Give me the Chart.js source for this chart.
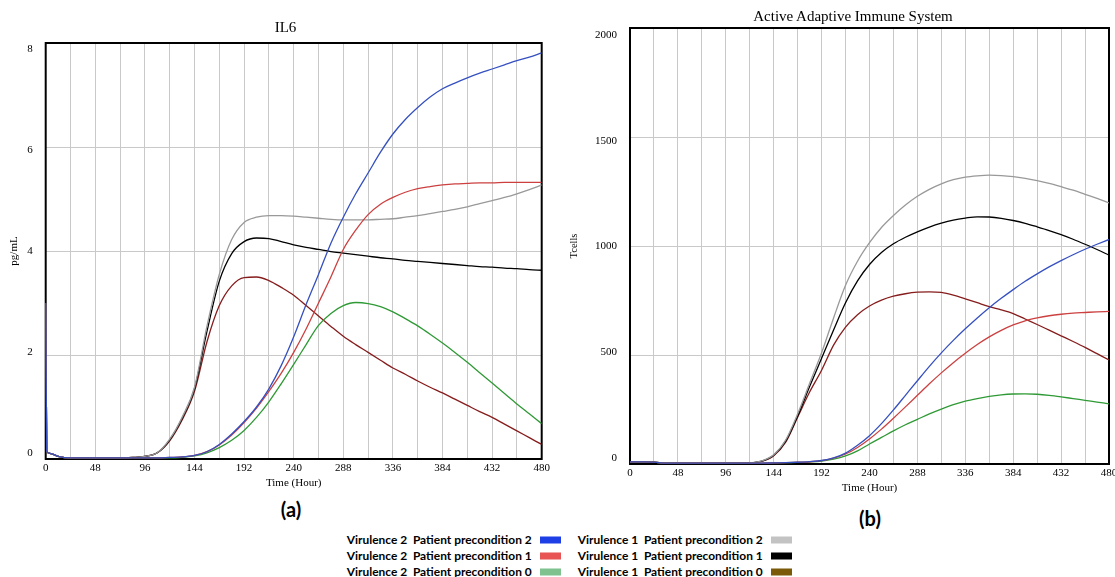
<!DOCTYPE html>
<html>
<head>
<meta charset="utf-8">
<script src="https://cdn.jsdelivr.net/npm/chart.js@4.4.0/dist/chart.umd.min.js"></script>
<style>
html,body{margin:0;padding:0;background:#fff;width:1115px;height:577px;overflow:hidden;position:relative;}
.abs{position:absolute;}
.title{font-family:"Liberation Serif",serif;font-size:15px;color:#000;transform:translate(-50%,-50%);white-space:nowrap;line-height:1.2;}
.tag{font-family:Lato,sans-serif;font-weight:bold;font-size:20px;color:#000;transform:translate(-50%,-50%);line-height:1.2;}
.leg{font-family:Lato,sans-serif;font-weight:bold;font-size:11.8px;color:#000;white-space:pre;line-height:1;transform:translateY(-50%);}
.sw{width:21px;height:7px;transform:translateY(-50%);}
canvas{position:absolute;top:0;}
</style>
</head>
<body>
<canvas id="c1" width="570" height="490" style="left:0px"></canvas>
<canvas id="c2" width="585" height="495" style="left:560px"></canvas>
<div class="abs title" style="left:285.5px;top:27px">IL6</div>
<div class="abs title" style="left:853px;top:16px">Active Adaptive Immune System</div>
<div class="abs tag" style="left:291px;top:509px">(a)</div>
<div class="abs tag" style="left:870px;top:518px">(b)</div>
<div id="legend"></div>
<script>
// ---- shared x values (hours) ----
const hours = [0,1,4,12,24,36,48,60,72,84,96,108,120,132,144,156,168,180,192,204,216,228,240,252,264,276,288,300,312,324,336,348,360,372,384,396,408,420,432,444,456,468,480];
const gridHours = [0,24,48,72,96,120,144,168,192,216,240,264,288,312,336,360,384,408,432,456,480];
const xTickLabels = [0,48,96,144,192,240,288,336,384,432,480];
const il6Ticks = [0,2,4,6,8];
const tcTicks = [0,500,1000,1500,2000];

// ---- IL6 (pg/mL) ----
const il6_v2p2 = [3,0.15,0.11,0.05,0.02,0.02,0.02,0.02,0.02, 0.02,0.02,0.02,0.03,0.04,0.07,0.14,0.28,0.48,0.72,1.0,1.35,1.8,2.35,2.97,3.55,4.15,4.65,5.1,5.5,5.9,6.25,6.53,6.76,6.96,7.12,7.23,7.33,7.42,7.5,7.58,7.66,7.73,7.81];
const il6_v2p1 = [3,0.15,0.11,0.05,0.02,0.02,0.02,0.02,0.02, 0.02,0.02,0.02,0.03,0.04,0.07,0.14,0.27,0.46,0.7,0.98,1.3,1.65,2.05,2.5,3.0,3.5,4.03,4.4,4.7,4.9,5.03,5.13,5.2,5.24,5.27,5.29,5.3,5.31,5.31,5.32,5.32,5.32,5.32];
const il6_v2p0 = [3,0.15,0.11,0.05,0.02,0.02,0.02,0.02,0.02, 0.02,0.02,0.02,0.02,0.03,0.06,0.12,0.22,0.36,0.55,0.8,1.1,1.45,1.82,2.2,2.57,2.8,2.95,3.01,2.99,2.93,2.83,2.7,2.56,2.4,2.23,2.05,1.86,1.66,1.46,1.26,1.06,0.87,0.68];
const il6_v1p2 = [3,0.15,0.11,0.05,0.02,0.02,0.02,0.02,0.02, 0.03,0.05,0.12,0.38,0.8,1.38,2.55,3.55,4.22,4.55,4.65,4.68,4.68,4.67,4.65,4.63,4.61,4.6,4.6,4.6,4.61,4.62,4.65,4.68,4.72,4.76,4.8,4.85,4.91,4.97,5.03,5.1,5.18,5.27];
const il6_v1p1 = [3,0.15,0.11,0.05,0.02,0.02,0.02,0.02,0.02, 0.03,0.05,0.12,0.37,0.78,1.35,2.45,3.42,3.95,4.18,4.25,4.24,4.18,4.12,4.07,4.03,3.99,3.96,3.93,3.9,3.87,3.85,3.82,3.8,3.78,3.76,3.74,3.72,3.7,3.69,3.67,3.66,3.64,3.63];
const il6_v1p0 = [3,0.15,0.11,0.05,0.02,0.02,0.02,0.02,0.02, 0.03,0.05,0.12,0.35,0.75,1.3,2.25,2.95,3.33,3.49,3.5,3.43,3.3,3.15,2.95,2.75,2.55,2.36,2.2,2.05,1.9,1.75,1.63,1.5,1.38,1.27,1.15,1.03,0.91,0.8,0.67,0.54,0.41,0.28];

// ---- Active Adaptive Immune System (Tcells) ----
const tc_v2p2 = [10,10,10,10,9,4,4,4,4, 4,4,4,4,4,5,6,8,11,16,28,50,86,130,185,248,315,382,448,510,567,620,670,717,760,800,838,872,904,933,960,985,1008,1030];
const tc_v2p1 = [10,10,10,10,9,4,4,4,4, 4,4,4,4,4,5,6,8,10,15,27,46,76,115,160,210,262,315,368,418,465,508,548,583,613,638,657,670,680,687,692,695,698,700];
const tc_v2p0 = [10,10,10,10,9,4,4,4,4, 4,4,4,4,4,5,6,7,9,13,22,37,60,92,122,152,180,205,230,252,272,288,300,310,317,321,322,320,315,308,300,292,284,276];
const tc_v1p2 = [10,10,10,10,9,4,4,4,4, 4,4,4,5,14,42,110,230,370,510,670,820,930,1015,1085,1140,1188,1228,1260,1285,1304,1316,1322,1325,1323,1318,1310,1300,1287,1272,1256,1237,1218,1198];
const tc_v1p1 = [10,10,10,10,9,4,4,4,4, 4,4,4,5,13,40,105,220,355,485,615,740,840,915,970,1010,1040,1065,1087,1105,1119,1128,1134,1133,1127,1117,1104,1088,1071,1052,1031,1008,984,958];
const tc_v1p0 = [10,10,10,10,9,4,4,4,4, 4,4,4,5,12,38,100,215,330,430,545,628,685,725,752,770,781,788,790,787,775,758,740,722,707,690,665,640,614,588,562,535,506,477];

const seriesNames = ["Virulence 2  Patient precondition 2","Virulence 2  Patient precondition 1","Virulence 2  Patient precondition 0","Virulence 1  Patient precondition 2","Virulence 1  Patient precondition 1","Virulence 1  Patient precondition 0"];
const lineColors = ["#3550c0","#cc4040","#2f9a35","#999999","#000000","#861c1c"];
const swatchColors = ["#1f3fe6","#e85353","#7fc28f","#c3c3c3","#000000","#7a5a08"];

const framePlugin = {
  id: 'frame',
  beforeDatasetsDraw(chart) {
    const {ctx, chartArea: a} = chart;
    ctx.save();
    ctx.strokeStyle = '#000';
    ctx.lineWidth = 2;
    ctx.strokeRect(a.left, a.top, a.right - a.left, a.bottom - a.top);
    ctx.restore();
  }
};

const serif = "'Liberation Serif', 'Times New Roman', serif";

function makeChart(id, series, yMax, yTicks, lblMin, lblMax, yTitle, yTitleSize, padTop, padRight, yAxisWidth, xHeight) {
  const datasets = series.map((s, i) => ({
    label: seriesNames[i],
    data: hours.map((h, j) => ({x: h, y: s[j]})),
    borderColor: lineColors[i],
    backgroundColor: lineColors[i],
    borderWidth: 1.3,
    pointRadius: 0,
    cubicInterpolationMode: 'monotone',
    fill: false
  }));
  return new Chart(document.getElementById(id), {
    type: 'line',
    data: {datasets},
    options: {
      responsive: false,
      animation: false,
      events: [],
      layout: {padding: {top: padTop, right: padRight, left: 0, bottom: 0}},
      plugins: {legend: {display: false}, tooltip: {enabled: false}, title: {display: false}},
      scales: {
        x: {
          type: 'linear', min: 0, max: 480,
          afterBuildTicks: s => { s.ticks = gridHours.map(v => ({value: v})); },
          ticks: {autoSkip: false, maxRotation: 0, padding: 3, color: '#000',
                  font: {family: serif, size: 11},
                  callback: v => xTickLabels.includes(v) ? String(v) : ''},
          grid: {color: '#c9c9c9', lineWidth: 1, drawTicks: false},
          border: {display: false},
          title: {display: true, text: 'Time (Hour)', color: '#000', font: {family: serif, size: 11}, padding: 0},
          afterFit: s => { s.height = xHeight; }
        },
        y: {
          type: 'linear', position: 'left', weight: 0, min: 0, max: yMax,
          afterBuildTicks: s => { s.ticks = yTicks.map(v => ({value: v})); },
          ticks: {display: false},
          grid: {color: '#c9c9c9', lineWidth: 1, drawTicks: false},
          border: {display: false},
          afterFit: s => { s.width = 0; }
        },
        yl: {
          type: 'linear', position: 'left', weight: 1, min: lblMin, max: lblMax,
          afterBuildTicks: s => { s.ticks = yTicks.map(v => ({value: v})); },
          ticks: {padding: 13, color: '#000', font: {family: serif, size: 11}, callback: v => String(v)},
          grid: {display: false, drawTicks: false},
          border: {display: false},
          title: {display: true, text: yTitle, color: '#000', font: {family: serif, size: yTitleSize}, padding: {top: 8, bottom: 0}},
          afterFit: s => { s.width = yAxisWidth; }
        }
      }
    },
    plugins: [framePlugin]
  });
}

makeChart('c1', [il6_v2p2, il6_v2p1, il6_v2p0, il6_v1p2, il6_v1p1, il6_v1p0],
  8, il6Ticks, -0.119, 8.119, 'pg/mL', 11, 43, 28.3, 45.7, 31);
makeChart('c2', [tc_v2p2, tc_v2p1, tc_v2p0, tc_v1p2, tc_v1p1, tc_v1p0],
  2000, tcTicks, -28.4, 2033.1, 'Tcells', 10.5, 28, 36, 70, 31);

// ---- legend (HTML text) ----
const legCols = [{tx: 346.7, sx: 540, w: 185}, {tx: 577.7, sx: 770.7, w: 185}];
const legRows = [540, 555.5, 571.5];
const legend = document.getElementById('legend');
const mctx = document.createElement('canvas').getContext('2d');
mctx.font = "bold 12px Lato";
seriesNames.forEach((name, i) => {
  const col = legCols[Math.floor(i / 3)];
  const y = legRows[i % 3];
  const t = document.createElement('div');
  t.className = 'abs leg';
  t.style.left = col.tx + 'px';
  t.style.top = y + 'px';
  const w12 = mctx.measureText(name).width;
  if (w12 > 0) t.style.fontSize = Math.min(12.5, 12 * col.w / w12).toFixed(2) + 'px';
  t.textContent = name;
  legend.appendChild(t);
  const sw = document.createElement('div');
  sw.className = 'abs sw';
  sw.style.left = col.sx + 'px';
  sw.style.top = y + 'px';
  sw.style.background = swatchColors[i];
  legend.appendChild(sw);
});
</script>
</body>
</html>
